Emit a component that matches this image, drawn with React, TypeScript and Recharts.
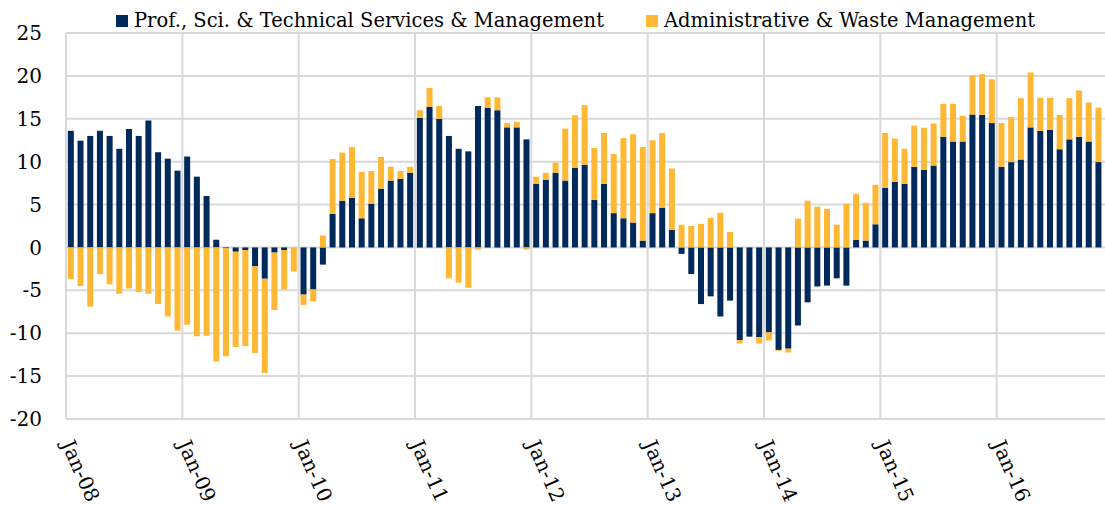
import { BarChart, Bar, XAxis, YAxis, CartesianGrid, Legend } from 'recharts'

const YEARS = ['08', '09', '10', '11', '12', '13', '14', '15', '16']
const MONTHS = ['Jan', 'Feb', 'Mar', 'Apr', 'May', 'Jun', 'Jul', 'Aug', 'Sep', 'Oct', 'Nov', 'Dec']

// Prof., Sci. & Technical Services & Management, one row per year
const PROF = [
  13.6, 12.45, 13.0, 13.6, 13.0, 11.5, 13.8, 13.0, 14.8, 11.1, 10.35, 8.95,
  10.6, 8.25, 6.0, 0.9, -0.1, -0.5, -0.3, -2.2, -3.65, -0.6, -0.3, 0,
  -5.5, -4.9, -2.0, 3.9, 5.45, 5.8, 3.4, 5.1, 6.85, 7.8, 8.0, 8.7,
  15.1, 16.4, 15.0, 13.0, 11.5, 11.2, 16.5, 16.3, 16.0, 14.0, 14.0, 12.6,
  7.4, 7.9, 8.7, 7.8, 9.3, 9.65, 5.55, 7.4, 4.0, 3.4, 2.9, 0.8,
  4.0, 4.6, 2.05, -0.75, -3.1, -6.6, -5.7, -8.05, -6.2, -10.8, -10.4, -10.45,
  -9.9, -11.95, -11.8, -9.1, -6.4, -4.55, -4.45, -3.6, -4.45, 0.9, 0.8, 2.7,
  6.95, 7.65, 7.4, 9.4, 9.05, 9.55, 12.9, 12.35, 12.35, 15.5, 15.45, 14.5,
  9.4, 9.95, 10.25, 14.0, 13.6, 13.7, 11.45, 12.6, 12.9, 12.35, 9.95, 11.0,
]

// Administrative & Waste Management
const ADMIN = [
  -3.7, -4.5, -6.9, -3.1, -4.3, -5.4, -4.8, -5.2, -5.4, -6.6, -8.05, -9.7,
  -9.0, -10.35, -10.3, -13.3, -12.6, -11.1, -11.2, -10.1, -11.0, -6.7, -4.6, -2.8,
  -1.2, -1.4, 1.4, 6.4, 5.6, 5.9, 5.4, 3.8, 3.7, 1.6, 0.9, 0.7,
  0.9, 2.2, 1.5, -3.6, -4.1, -4.7, -0.25, 1.2, 1.5, 0.5, 0.65, -0.25,
  0.85, 0.8, 1.2, 6.05, 6.1, 6.95, 6.05, 5.95, 6.9, 9.35, 10.3, 10.9,
  8.5, 8.75, 7.15, 2.65, 2.5, 2.75, 3.45, 4.05, 1.8, -0.4, 0, -0.75,
  -0.95, -0.1, -0.45, 3.35, 5.45, 4.75, 4.5, 2.65, 5.1, 5.35, 4.4, 4.6,
  6.4, 5.05, 4.1, 4.8, 4.9, 4.9, 3.85, 4.4, 3.0, 4.55, 4.75, 5.1,
  5.1, 5.25, 7.15, 6.4, 3.85, 3.75, 4.0, 4.8, 5.4, 4.55, 6.35, 5.0,
]

const Y_TICKS = [-20, -15, -10, -5, 0, 5, 10, 15, 20, 25]

const NAVY = '#00295c'
const GOLD = '#ffb834'
const GRID = '#d9d9d9'

const CHART_W = 1113
const Y_AXIS_W = 66

const MONTH_LABELS = YEARS.flatMap((y) => MONTHS.map((m) => `${m}-${y}`))
const data = MONTH_LABELS.map((month, i) => ({ month, prof: PROF[i], admin: ADMIN[i] }))
const band = (CHART_W - Y_AXIS_W) / MONTH_LABELS.length

function MonthTick({ x, y, payload }: any) {
  const tx = x - band / 2 - 5
  const ty = y + 25
  return (
    <text x={tx} y={ty} transform={`rotate(66, ${tx}, ${ty})`} textAnchor="start" fontSize={20} fill="#000">
      {payload.value}
    </text>
  )
}

function LegendBox() {
  const item = (left: number, color: string, label: string) => (
    <div style={{ position: 'absolute', left, top: 7, height: 22, lineHeight: '22px', display: 'flex', alignItems: 'center', whiteSpace: 'nowrap' }}>
      <span style={{ width: 12, height: 12, background: color, display: 'inline-block', marginRight: 6 }} />
      <span style={{ fontSize: 19.5, color: '#000' }}>{label}</span>
    </div>
  )
  return (
    <div style={{ position: 'relative', height: 30 }}>
      {item(116, NAVY, 'Prof., Sci. & Technical Services & Management')}
      {item(646, GOLD, 'Administrative & Waste Management')}
    </div>
  )
}

export default function App() {
  return (
    <div style={{ position: 'absolute', left: 0, top: 0, width: 1105, height: 505, overflow: 'hidden', background: '#fff', fontFamily: '"DejaVu Serif", serif' }}>
      <BarChart
        width={CHART_W}
        height={505}
        data={data}
        stackOffset="sign"
        barCategoryGap="19%"
        margin={{ top: 3, right: 0, bottom: 0, left: 0 }}
      >
        <CartesianGrid
          stroke={GRID}
          strokeWidth={2}
          verticalCoordinatesGenerator={({ offset }: any) => YEARS.map((_, i) => offset.left + i * 12 * band)}
        />
        <Legend verticalAlign="top" align="left" height={30} content={() => <LegendBox />} />
        <XAxis
          dataKey="month"
          interval={11}
          axisLine={false}
          tickLine={false}
          tickSize={0}
          tickMargin={0}
          height={86}
          tick={<MonthTick />}
        />
        <YAxis
          domain={[-20, 25]}
          ticks={Y_TICKS}
          axisLine={false}
          tickLine={false}
          tickSize={0}
          tickMargin={24}
          width={Y_AXIS_W}
          tick={{ fontSize: 20, fill: '#000' }}
        />
        <Bar dataKey="prof" stackId="a" fill={NAVY} isAnimationActive={false} />
        <Bar dataKey="admin" stackId="a" fill={GOLD} isAnimationActive={false} />
      </BarChart>
    </div>
  )
}
